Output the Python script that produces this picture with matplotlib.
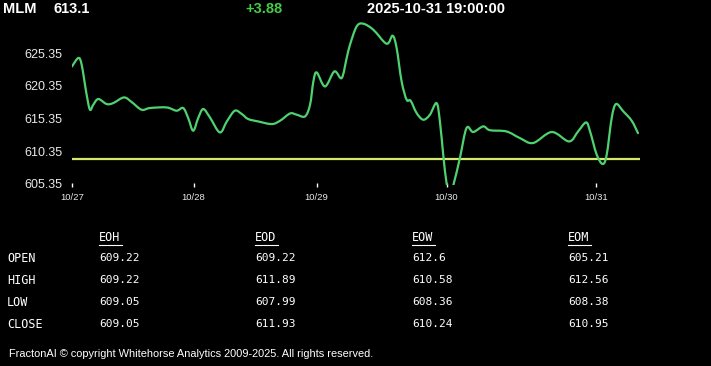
import matplotlib
matplotlib.use("Agg")
import matplotlib.pyplot as plt
from matplotlib.path import Path
from matplotlib.patches import PathPatch

# ── data ──────────────────────────────────────────────────────────────────────
SYMBOL     = "MLM"
LAST       = "613.1"
CHANGE     = "+3.88"
STAMP      = "2025-10-31 19:00:00"
PREV_CLOSE = 609.22

bars = [0, 1.9, 2.9, 4.4, 5.4, 6.4, 7.9, 10.4, 12.4, 15.6, 17.9, 20.9, 23.4,
        28.4, 31.4, 33.4, 34.9, 36.4, 37.9, 39.4, 41.4, 44.4, 46.5, 48.9,
        51.0, 52.9, 55.9, 60.0, 62.5, 65.5, 67.5, 70.0, 71.5, 72.5, 73.5,
        76.0, 78.8, 81.0, 82.5, 83.5, 85.5, 87.5, 90.5, 94.5, 96.3, 97.5,
        99.0, 100.5, 101.7, 103.5, 105.5, 107.5, 109.5, 110.5, 111.5, 112.5,
        113.5, 114.7, 116.5, 118.5, 120.5, 123.5, 125.5, 130.5, 134.5, 138.5,
        144.1, 149.3, 152.0, 154.4, 155.6, 157.6, 159.4, 160.6, 162.1, 163.4,
        165.6, 168.1, 170]
price = [623.30, 624.59, 623.56, 618.97, 616.68, 617.45, 618.32, 617.55,
         617.70, 618.56, 617.86, 616.68, 616.94, 617.03, 616.53, 616.94,
         615.41, 613.47, 615.41, 616.79, 615.53, 613.21, 614.89, 616.53,
         616.02, 615.26, 614.89, 614.49, 615.00, 616.11, 615.92, 615.66,
         617.45, 621.01, 622.38, 620.24, 622.54, 621.53, 624.59, 626.62,
         629.42, 629.83, 628.91, 626.77, 628.00, 626.11, 621.01, 618.21,
         618.06, 616.18, 615.15, 615.92, 617.70, 614.89, 609.80, 605.47,
         603.80, 605.47, 609.29, 613.88, 613.27, 614.13, 613.55, 613.36,
         612.35, 611.59, 613.27, 611.83, 613.36, 614.74, 613.36, 609.80,
         608.38, 609.80, 615.41, 617.55, 616.42, 615.00, 613.10]

yticks     = [605.35, 610.35, 615.35, 620.35, 625.35]
day_bars   = [0, 36.5, 73.5, 112.5, 157.5]
day_labels = ["10/27", "10/28", "10/29", "10/30", "10/31"]

periods  = ["EOH", "EOD", "EOW", "EOM"]
rows     = ["OPEN", "HIGH", "LOW", "CLOSE"]
open_v   = ["609.22", "609.22", "612.6", "605.21"]
high_v   = ["609.22", "611.89", "610.58", "612.56"]
low_v    = ["609.05", "607.99", "608.36", "608.38"]
close_v  = ["609.05", "611.93", "610.24", "610.95"]

FOOTER = "FractonAI \u00a9 copyright Whitehorse Analytics 2009-2025. All rights reserved."

# ── figure ────────────────────────────────────────────────────────────────────
W, H = 711, 366
fig = plt.figure(figsize=(W / 100, H / 100), dpi=100, facecolor="black")

def px(x, y):
    return x / W, 1 - y / H

def smooth_path(xs, ys):
    """Catmull-Rom style bezier path through the points (drawing only)."""
    pts = list(zip(xs, ys))
    verts, codes = [pts[0]], [Path.MOVETO]
    n = len(pts)
    for i in range(n - 1):
        p0 = pts[max(i - 1, 0)]
        p1 = pts[i]
        p2 = pts[i + 1]
        p3 = pts[min(i + 2, n - 1)]
        c1 = (p1[0] + (p2[0] - p0[0]) / 6, p1[1] + (p2[1] - p0[1]) / 6)
        c2 = (p2[0] - (p3[0] - p1[0]) / 6, p2[1] - (p3[1] - p1[1]) / 6)
        verts += [c1, c2, p2]
        codes += [Path.CURVE4] * 3
    return Path(verts, codes)

# header
hdr = dict(color="white", fontsize=10.5, fontweight="bold", family="Liberation Sans",
           va="center")
fig.text(*px(3, 9), SYMBOL, **hdr)
fig.text(*px(53, 9), LAST, **hdr)
fig.text(*px(245, 9), CHANGE, **{**hdr, "color": "#44cc44"})
fig.text(*px(367, 9), STAMP, **hdr)

# chart axes
left, right, top, bottom = 72, 640, 20, 185
ax = fig.add_axes([left / W, 1 - bottom / H, (right - left) / W, (bottom - top) / H])
ax.set_facecolor("black")
ax.add_patch(PathPatch(smooth_path(bars, price), fill=False, edgecolor="#4fd170",
                       lw=1.6, capstyle="round", joinstyle="round", zorder=3))
ax.axhline(PREV_CLOSE, color="#d6e86c", lw=1.6, zorder=2)
ax.set_xlim(0, 170.6)
ax.set_ylim(605.17, 630.4)
for s in ax.spines.values():
    s.set_visible(False)
ax.set_yticks(yticks)
ax.set_yticklabels([f"{v:.2f}" for v in yticks])
ax.tick_params(axis="y", length=0, pad=7, labelsize=9, labelcolor="#e8e8e8",
               labelfontfamily="Liberation Sans")
ax.set_xticks(day_bars)
ax.set_xticklabels(day_labels)
ax.tick_params(axis="x", length=3, width=1, color="white", pad=4, labelsize=6.8,
               labelcolor="#e8e8e8", labelfontfamily="Liberation Sans", direction="inout")

# OHLC table
mono = "DejaVu Sans Mono"
col_x = [99, 255, 412, 568]
row_y = [259, 281, 303, 325]
vals = [open_v, high_v, low_v, close_v]
for cx, p in zip(col_x, periods):
    fig.text(*px(cx, 238), p, color="white", fontsize=8.5, family=mono, va="center")
    fig.add_artist(plt.Line2D([cx / W, (cx + 22.5) / W], [1 - 245 / H] * 2,
                              color="white", lw=0.8))
for ry, r, vv in zip(row_y, rows, vals):
    fig.text(*px(7, ry), r, color="white", fontsize=8.5, family=mono, va="center")
    for cx, v in zip(col_x, vv):
        fig.text(*px(cx, ry - 1), v, color="white", fontsize=8, family=mono, va="center")

fig.text(*px(9, 354), FOOTER, color="white", fontsize=7.9, family="Liberation Sans",
         va="center")

fig.savefig("out.png", dpi=100, facecolor="black")
